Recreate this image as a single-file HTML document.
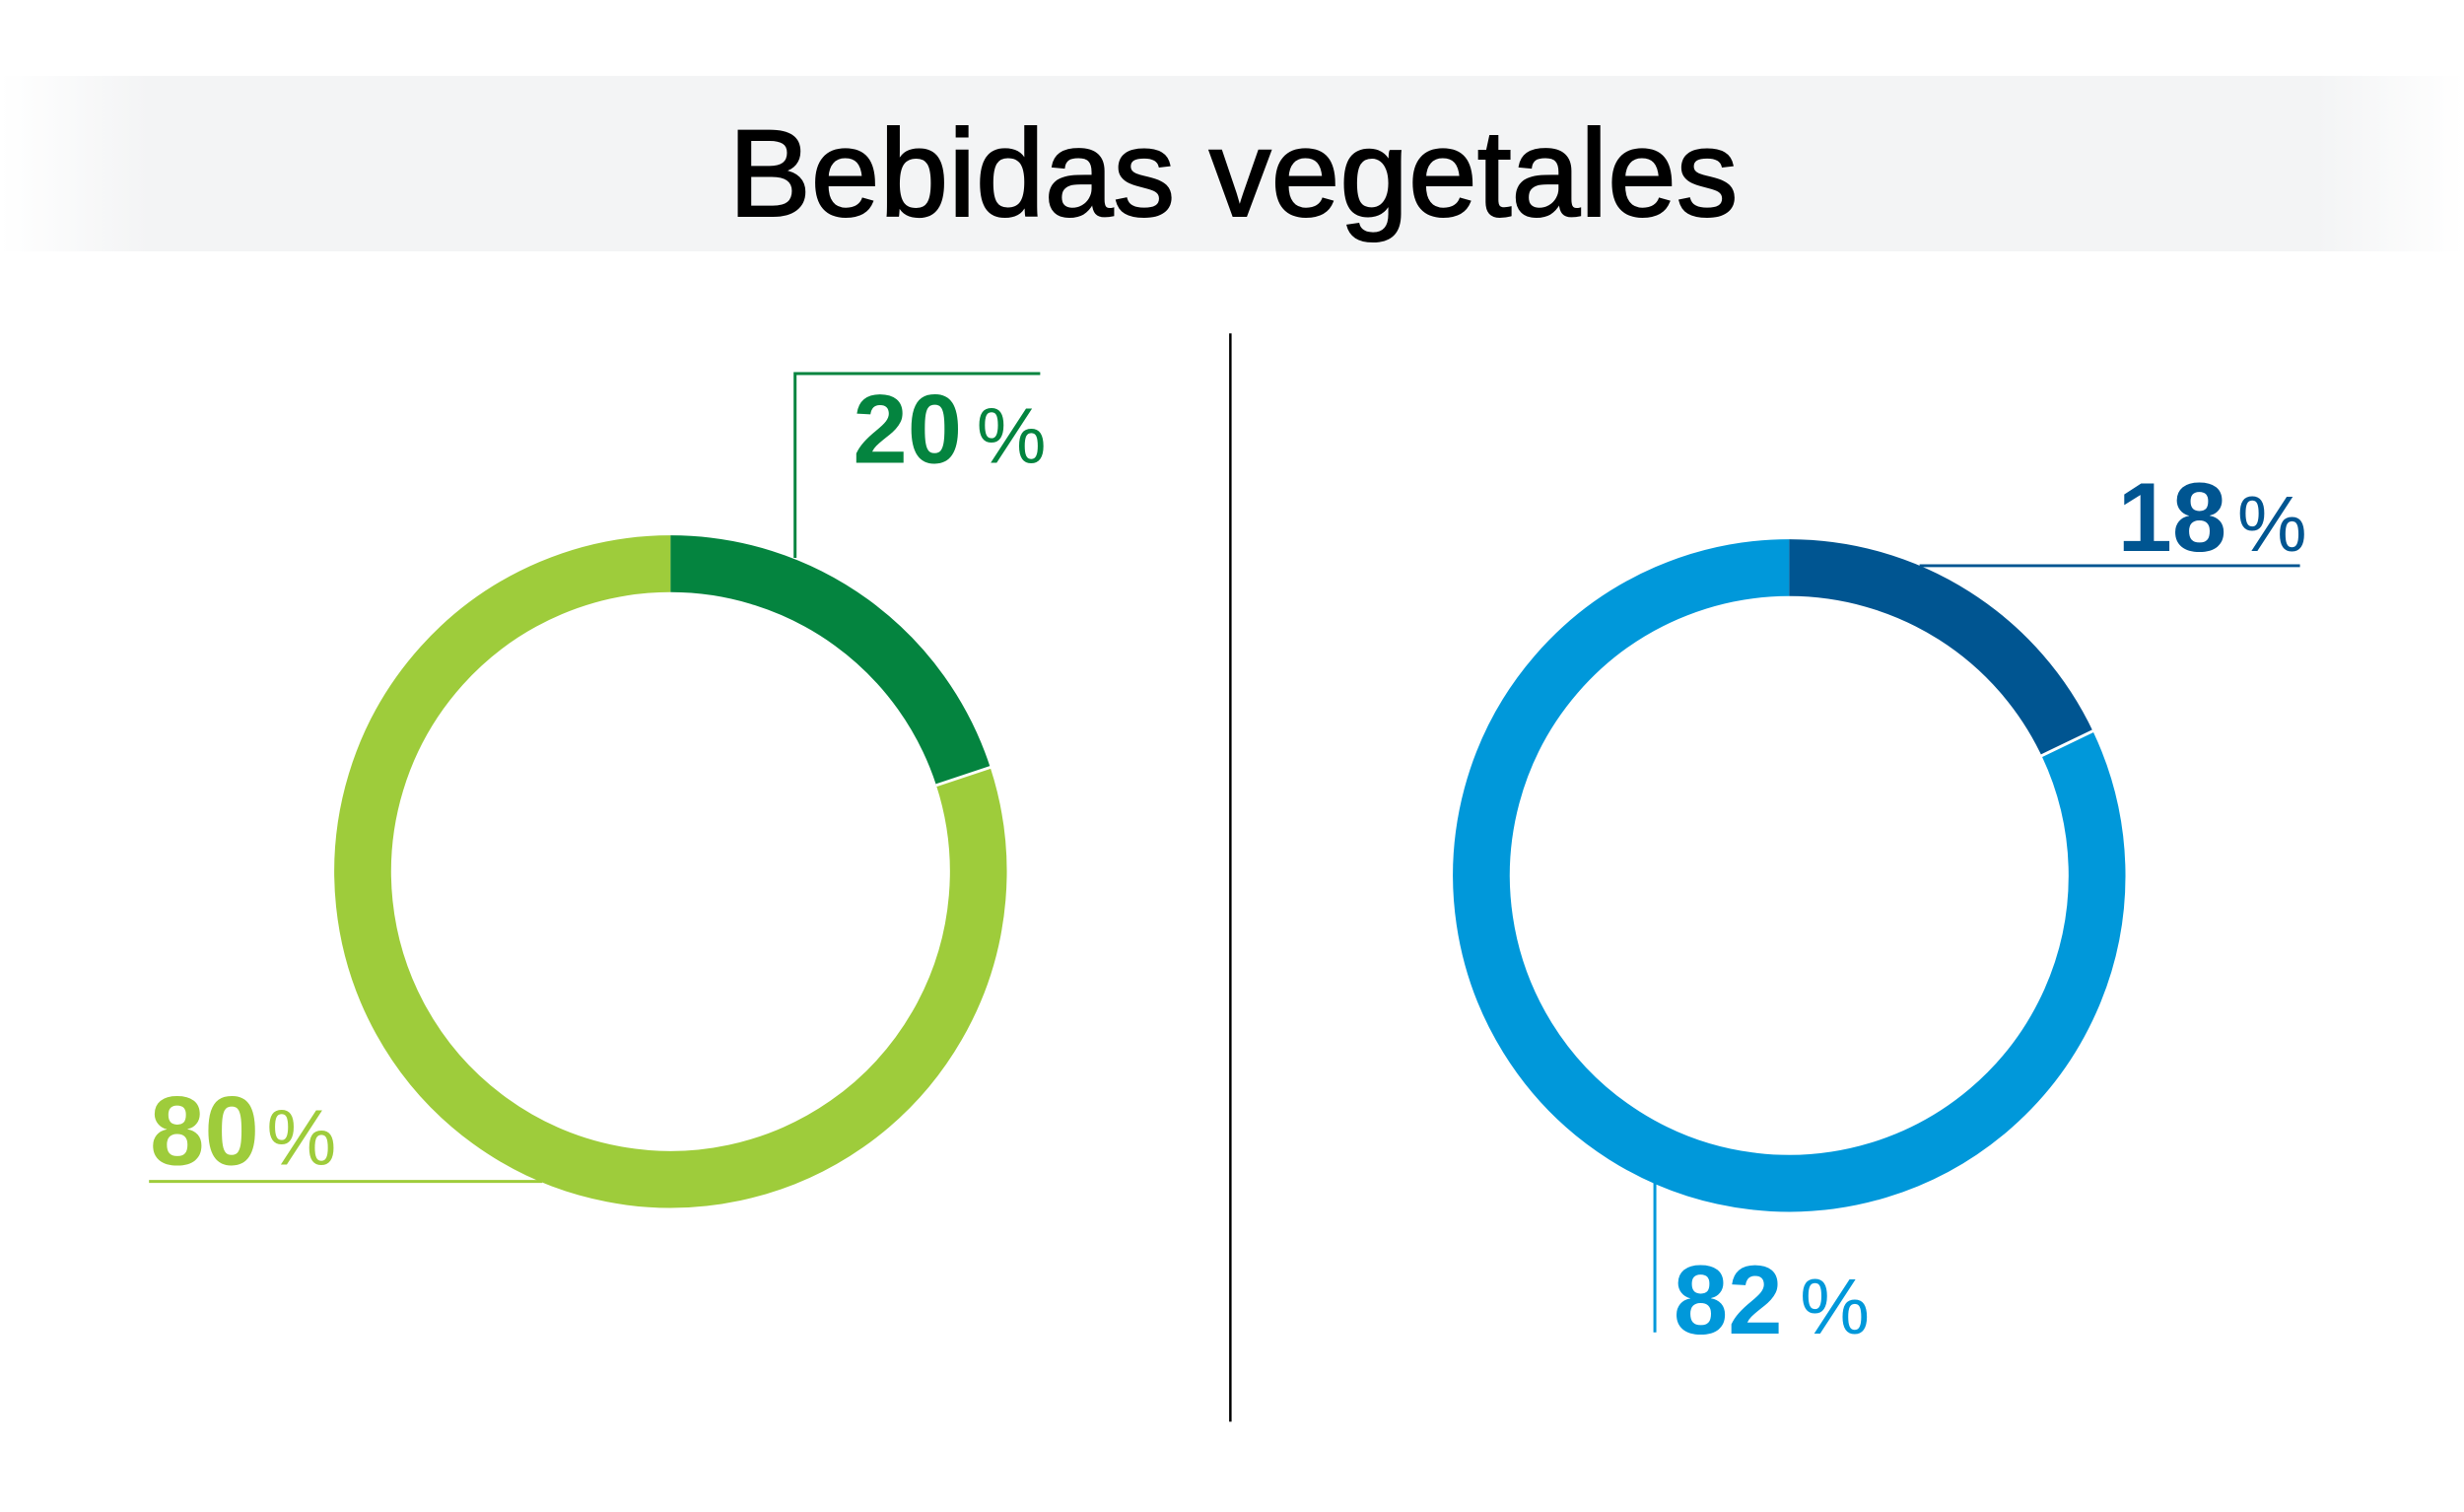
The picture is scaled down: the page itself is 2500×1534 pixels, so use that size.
<!DOCTYPE html>
<html><head><meta charset="utf-8"><style>
html,body{margin:0;padding:0;background:#fff;}
body{width:2500px;height:1529px;position:relative;overflow:hidden;font-family:"Liberation Sans",sans-serif;}
</style></head><body>
<svg width="2500" height="1529" viewBox="0 0 2500 1529" xmlns="http://www.w3.org/2000/svg">
<defs>
<linearGradient id="band" x1="0" x2="1" y1="0" y2="0">
<stop offset="0" stop-color="#f3f4f5" stop-opacity="0"/>
<stop offset="0.06" stop-color="#f3f4f5"/>
<stop offset="0.94" stop-color="#f3f4f5"/>
<stop offset="1" stop-color="#f3f4f5" stop-opacity="0"/>
</linearGradient>
</defs>
<rect x="0" y="77" width="2500" height="178" fill="url(#band)"/>
<g transform="scale(0.9947)">
<text x="1258" y="220" text-anchor="middle" font-family="Liberation Sans, sans-serif" font-size="126" fill="#000" stroke="#000" stroke-width="2">Bebidas vegetales</text>

<line x1="1255" y1="340" x2="1255" y2="1450" stroke="#000" stroke-width="2.5"/>

<path d="M982.6 792 A314 314 0 1 1 684 575" fill="none" stroke="#9ECC3B" stroke-width="58"/>
<path d="M684 575 A314 314 0 0 1 982.6 792" fill="none" stroke="#04843F" stroke-width="58"/>
<line x1="955" y1="801" x2="1012" y2="782" stroke="#fff" stroke-width="3"/>
<polyline points="811,569 811,381 1061,381" fill="none" stroke="#04843F" stroke-width="3"/>
<text x="870" y="472" font-size="100" font-weight="bold" fill="#04843F">20</text>
<text x="996" y="472" font-size="80" fill="#04843F">%</text>
<line x1="152" y1="1205" x2="553" y2="1205" stroke="#9ECC3B" stroke-width="3"/>
<text x="153" y="1188" font-size="100" font-weight="bold" fill="#9ECC3B">80</text>
<text x="272" y="1188" font-size="80" fill="#9ECC3B">%</text>

<path d="M2109.1 759.3 A314 314 0 1 1 1825 579" fill="none" stroke="#0098DA" stroke-width="58"/>
<path d="M1825 579 A314 314 0 0 1 2109.1 759.3" fill="none" stroke="#005591" stroke-width="58"/>
<line x1="2082" y1="771" x2="2136" y2="745" stroke="#fff" stroke-width="3"/>
<line x1="1958" y1="577" x2="2346" y2="577" stroke="#005591" stroke-width="3"/>
<text x="2160" y="562" font-size="100" font-weight="bold" fill="#005591">18</text>
<text x="2282" y="562" font-size="80" fill="#005591">%</text>
<line x1="1688" y1="1205" x2="1688" y2="1359" stroke="#0098DA" stroke-width="3"/>
<text x="1707" y="1360" font-size="100" font-weight="bold" fill="#0098DA">82</text>
<text x="1836" y="1360" font-size="80" fill="#0098DA">%</text>
</g>
</svg>
</body></html>
